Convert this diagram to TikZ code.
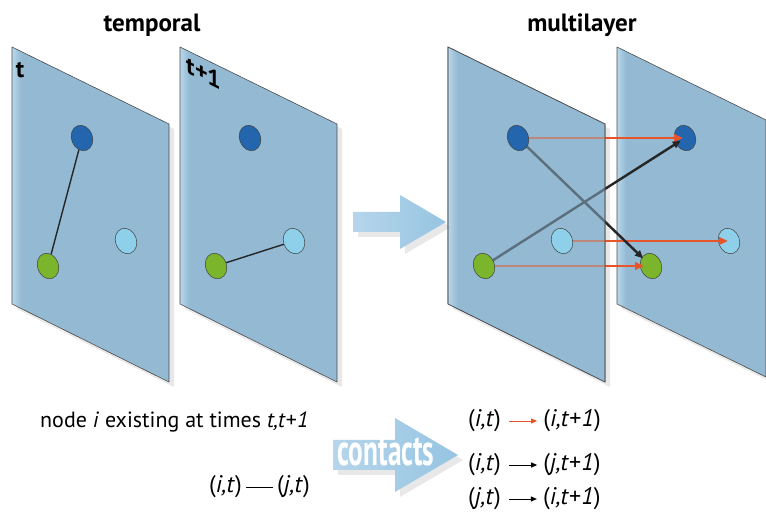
\documentclass[tikz,border=0pt]{standalone}
\usepackage{fontspec}
\setmainfont{PT Sans}
\usetikzlibrary{arrows.meta,positioning,shapes.geometric,shadows}
\definecolor{planeblue}{HTML}{93B9D3}
\definecolor{planehi}{HTML}{B8D7EB}
\definecolor{dotblue}{HTML}{2366AE}
\definecolor{dotgreen}{HTML}{7AB52C}
\definecolor{dotsky}{HTML}{8ECFEA}
\definecolor{linkorange}{HTML}{E9552A}
\definecolor{flowblue}{HTML}{96C4E2}
\pgfdeclarehorizontalshading{planeshade}{100bp}{color(0bp)=(planehi); color(25bp)=(planehi); color(28bp)=(planeblue); color(100bp)=(planeblue)}
\pgfdeclarelayer{planes}
\pgfdeclarelayer{links}
\pgfdeclarelayer{veil}
\pgfdeclarelayer{front}
\pgfsetlayers{planes,main,links,veil,front}

\begin{document}
\begin{tikzpicture}[
  x=1pt, y=-1pt,
  txt/.style={font=\fontsize{22}{26}\selectfont, inner sep=4pt},
  pair/.style={font=\fontsize{24}{28}\selectfont, inner sep=4pt},
  title/.style={font=\fontsize{25}{28}\selectfont\bfseries},
  plabel/.style={font=\fontsize{24}{26}\selectfont\bfseries, inner sep=0pt},
  plane/.style={draw=black!70, line width=0.6pt, shade, shading=planeshade},
  shadowed/.style={drop shadow={opacity=0.18, shadow xshift=5pt, shadow yshift=-5pt}},
  dot/.style={ellipse, draw=black!75, line width=0.5pt, minimum width=21pt, minimum height=26pt, inner sep=0pt, rotate=20},
  bdot/.style={dot, fill=dotblue},
  gdot/.style={dot, fill=dotgreen},
  sdot/.style={dot, fill=dotsky},
  contact/.style={line width=1.4pt, black!85},
  selflink/.style={draw=linkorange, line width=2.8pt, -{Triangle[length=9pt,width=7.5pt]}},
  crosslink/.style={draw=black!85, line width=2.4pt, -{Triangle[length=8pt,width=7pt]}},
  flow/.style={left color=flowblue!70!white, right color=flowblue, shadowed},
  key/.style={line width=0.9pt, -{Triangle[length=6pt,width=5pt]}}]
\useasboundingbox (0,0) rectangle (766,518);
% planes
\begin{pgfonlayer}{planes}
  \foreach \px in {12,180,448}
    \path[plane, shadowed] (\px,47) -- ++(157,77) -- ++(0,258) -- ++(-157,-78) -- cycle;
  \path[plane, shadowed] (617,47) -- (766,120) -- (766,377) -- (617,304) -- cycle;
\end{pgfonlayer}
% titles
\node[title] (temporal) at (152,25) {temporal};
\node[title] (multilayer) at (582,25) {multilayer};
\node[plabel] (tlab) at (20,70) {t};
\begin{scope}[shift={(204,73)}, yslant=-0.5]
  \node[plabel, transform shape] (t1lab) at (0,0) {t+1};
\end{scope}
% nodes in each plane
\foreach \k/\dx in {1/0, 2/168, 4/603} {
  \node[bdot] (b\k) at (82+\dx,138) {};
  \node[sdot] (s\k) at (126+\dx,241) {};
  \node[gdot] (g\k) at (48+\dx,266) {};
}
\draw[contact] (b1) -- (g1);
\draw[contact] (g2) -- (s2);
\begin{pgfonlayer}{front}
  \node[bdot] (b3) at (518,138) {};
  \node[sdot] (s3) at (562,241) {};
  \node[gdot] (g3) at (484,266) {};
\end{pgfonlayer}
% links between layers
\begin{pgfonlayer}{links}
  \draw[selflink, shorten >=2pt] (b3.center) -- (b4.center);
  \draw[selflink, shorten >=1pt] (s3.center) -- (s4.center);
  \draw[selflink, shorten >=7pt] (g3.center) -- (g4.center);
  \draw[crosslink, shorten >=11pt] (b3.center) -- (g4.center);
  \draw[crosslink, shorten >=5pt] (g3.center) -- (b4.center);
\end{pgfonlayer}
\begin{pgfonlayer}{veil}
  \path[plane, fill opacity=0.5] (448,47) -- ++(157,77) -- ++(0,258) -- ++(-157,-78) -- cycle;
\end{pgfonlayer}
% big arrows
\path[flow] (353,212) -- (400,212) -- (400,195) -- (446,222) -- (400,249) -- (400,232) -- (353,232) -- cycle;
\path[flow] (333,440) -- (395,440) -- (395,418) -- (458,455) -- (395,492) -- (395,470) -- (333,470) -- cycle;
\node[white, font=\fontsize{44}{44}\selectfont\bfseries] (contacts) at (386,452) {\scalebox{0.62}[1]{contacts}};
% legend
\node[txt, anchor=base west] (exist) at (36,428) {node \textit{i} existing at times \textit{t,t}+\textit{1}};
\node[pair, anchor=east] (it) at (246,487) {(\textit{i,t})};
\node[pair, right=27pt of it] (jt) {(\textit{j,t})};
\draw[line width=0.8pt] (it) -- (jt);
\node[pair, anchor=west] (r1a) at (464,421) {(\textit{i,t})};
\node[pair, right=34pt of r1a] (r1b) {(\textit{i,t}+\textit{1})};
\draw[key, linkorange, shorten <=4pt, shorten >=2pt] (r1a) -- (r1b);
\node[pair, anchor=west] (r2a) at (464,465) {(\textit{i,t})};
\node[pair, right=34pt of r2a] (r2b) {(\textit{j,t}+\textit{1})};
\draw[key, shorten <=4pt, shorten >=2pt] (r2a) -- (r2b);
\node[pair, anchor=west] (r3a) at (464,499) {(\textit{j,t})};
\node[pair, right=34pt of r3a] (r3b) {(\textit{i,t}+\textit{1})};
\draw[key, shorten <=4pt, shorten >=2pt] (r3a) -- (r3b);
\end{tikzpicture}
\end{document}
